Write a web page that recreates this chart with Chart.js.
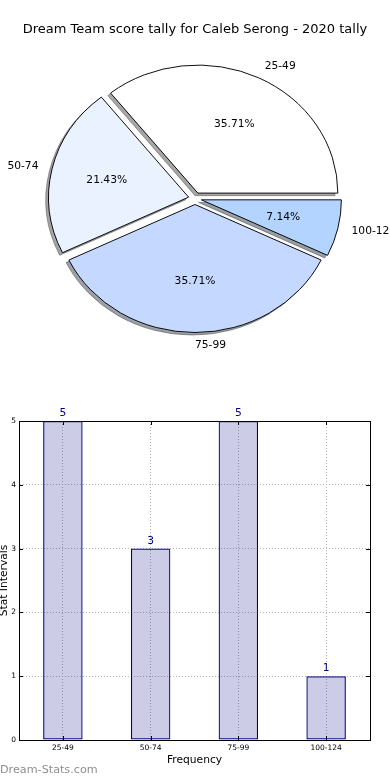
<!DOCTYPE html>
<html><head><meta charset="utf-8">
<script src="https://cdn.jsdelivr.net/npm/chart.js@4.4.0/dist/chart.umd.min.js"></script>
<style>
html,body{margin:0;padding:0;background:#fff;width:390px;height:780px;overflow:hidden;}
#pie{position:absolute;left:0;top:0;}
#bar{position:absolute;left:0;top:400px;}
</style></head><body>
<canvas id="pie" width="390" height="400"></canvas>
<canvas id="bar" width="390" height="380"></canvas>
<script>
const titleText = 'Dream Team score tally for Caleb Serong - 2020 tally';
const categories = ['25-49', '50-74', '75-99', '100-124'];
const counts = [5, 3, 5, 1];
const sliceColors = ['#ffffff', '#ebf2ff', '#c5d8ff', '#b3d4ff'];
const yTickValues = [0, 1, 2, 3, 4, 5];
const xAxisTitle = 'Frequency';
const yAxisTitle = 'Stat Intervals';
const watermarkText = 'Dream-Stats.com';

const FONT = "'DejaVu Sans', sans-serif";
Chart.defaults.font.family = FONT;
Chart.defaults.color = '#000';

const SX = 140 / 128;   // horizontal stretch of the (non equal-aspect) pie
const EXPLODE = 6;      // px each wedge is pushed outwards
const SHADOW = 2.56;    // px shadow shift (left / down)

function hexToRgb(h) {
  h = h.replace('#', '');
  return [0, 2, 4].map(i => parseInt(h.substr(i, 2), 16));
}

const total = counts.reduce((a, b) => a + b, 0);

const piePlugin = {
  id: 'mplPie',
  beforeDatasetDraw(chart, args) {
    const ctx = chart.ctx;
    const arcs = args.meta.data;
    const cx = arcs[0].x;
    ctx.save();
    ctx.translate(cx, 0); ctx.scale(SX, 1); ctx.translate(-cx, 0);
    arcs.forEach(arc => {
      const mid = (arc.startAngle + arc.endAngle) / 2;
      const orig = arc.options;
      const rgb = hexToRgb(orig.backgroundColor);
      const col = 'rgba(' + rgb.map(v => Math.round(v * 0.3)).join(',') + ',0.5)';
      arc.options = Object.assign({}, orig, {backgroundColor: col, borderColor: col});
      ctx.save();
      ctx.translate(Math.cos(mid) * EXPLODE - SHADOW, Math.sin(mid) * EXPLODE + SHADOW);
      arc.draw(ctx);
      ctx.restore();
      arc.options = orig;
    });
    arcs.forEach(arc => {
      const mid = (arc.startAngle + arc.endAngle) / 2;
      ctx.save();
      ctx.translate(Math.cos(mid) * EXPLODE, Math.sin(mid) * EXPLODE);
      arc.draw(ctx);
      ctx.restore();
    });
    ctx.restore();
    return false;
  },
  afterDatasetsDraw(chart) {
    const ctx = chart.ctx;
    const meta = chart.getDatasetMeta(0);
    const ds = chart.data.datasets[0];
    ctx.save();
    ctx.fillStyle = '#000';
    ctx.font = '10.7px ' + FONT;
    ctx.textBaseline = 'middle';
    meta.data.forEach((arc, i) => {
      const mid = (arc.startAngle + arc.endAngle) / 2;
      const R = arc.outerRadius;
      const c = Math.cos(mid), s = Math.sin(mid);
      const bx = arc.x + c * EXPLODE, by = arc.y + s * EXPLODE;
      const sx = x => arc.x + (x - arc.x) * SX;
      ctx.textAlign = c > -1e-9 ? 'left' : 'right';
      ctx.fillText(chart.data.labels[i], sx(bx + c * R * 1.1), by + s * R * 1.1);
      ctx.textAlign = 'center';
      const pct = (ds.data[i] / total * 100).toFixed(2) + '%';
      ctx.fillText(pct, sx(bx + c * R * 0.6), by + s * R * 0.6);
    });
    ctx.restore();
  }
};

new Chart(document.getElementById('pie'), {
  type: 'pie',
  data: {
    labels: categories.slice().reverse(),
    datasets: [{
      data: counts.slice().reverse(),
      backgroundColor: sliceColors.slice().reverse(),
      borderColor: '#000',
      borderWidth: 0.9,
      borderJoinStyle: 'miter',
      offset: 0
    }]
  },
  options: {
    responsive: false,
    animation: false,
    rotation: 90,
    radius: 128,
    layout: {padding: {top: 0, bottom: 40.3, left: 0, right: 0}},
    plugins: {
      legend: {display: false},
      tooltip: {enabled: false},
      title: {
        display: true,
        text: titleText,
        color: '#000',
        font: {size: 13, weight: 'normal', family: FONT, lineHeight: 1.2},
        padding: {top: 21.7, bottom: 0}
      }
    }
  },
  plugins: [piePlugin]
});

const barPlugin = {
  id: 'mplBar',
  afterDatasetsDraw(chart) {
    const ctx = chart.ctx;
    const meta = chart.getDatasetMeta(0);
    const ds = chart.data.datasets[0];
    ctx.save();
    ctx.fillStyle = '#000080';
    ctx.font = '10.7px ' + FONT;
    ctx.textAlign = 'center';
    ctx.textBaseline = 'alphabetic';
    meta.data.forEach((bar, i) => {
      ctx.fillText(String(ds.data[i]), bar.x, bar.y - 5);
    });
    ctx.restore();
  },
  afterDraw(chart) {
    const ctx = chart.ctx;
    const a = chart.chartArea;
    const xs = chart.scales.x, ys = chart.scales.y;
    ctx.save();
    ctx.strokeStyle = '#000';
    ctx.lineWidth = 1;
    ctx.strokeRect(Math.round(a.left) + 0.5, Math.round(a.top) + 0.5,
                   Math.round(a.right - a.left), Math.round(a.bottom - a.top));
    ctx.beginPath();
    ys.ticks.forEach(tk => {
      const y = Math.round(ys.getPixelForValue(tk.value)) + 0.5;
      ctx.moveTo(a.left, y); ctx.lineTo(a.left + 4, y);
      ctx.moveTo(a.right, y); ctx.lineTo(a.right - 4, y);
    });
    xs.ticks.forEach((tk, i) => {
      const x = Math.round(xs.getPixelForTick(i)) + 0.5;
      ctx.moveTo(x, a.bottom); ctx.lineTo(x, a.bottom - 4);
      ctx.moveTo(x, a.top); ctx.lineTo(x, a.top + 4);
    });
    ctx.stroke();
    ctx.fillStyle = '#8f8f8f';
    ctx.font = '11.2px ' + FONT;
    ctx.textAlign = 'left';
    ctx.textBaseline = 'middle';
    ctx.fillText(watermarkText, 0, chart.height - 10);
    ctx.restore();
  }
};

new Chart(document.getElementById('bar'), {
  type: 'bar',
  data: {
    labels: categories,
    datasets: [{
      data: counts,
      backgroundColor: 'rgba(0,0,128,0.2)',
      borderColor: '#000080',
      borderWidth: 1.2,
      borderSkipped: false,
      barPercentage: 0.45,
      categoryPercentage: 1
    }]
  },
  options: {
    responsive: false,
    animation: false,
    layout: {padding: {top: 21, right: 20, bottom: 0, left: 0}},
    plugins: {legend: {display: false}, tooltip: {enabled: false}},
    scales: {
      x: {
        type: 'category',
        offset: true,
        grid: {offset: false, color: '#b4b4b4', drawTicks: false, lineWidth: 1},
        border: {display: true, color: '#000', width: 1, dash: [1, 2]},
        ticks: {font: {size: 7.5}, color: '#000', padding: 4, maxRotation: 0, autoSkip: false},
        title: {display: true, text: xAxisTitle, font: {size: 10.7}, color: '#000', padding: {top: 0, bottom: 13.6}},
        afterFit(scale) { scale.height = 40; }
      },
      y: {
        min: 0, max: 5,
        afterBuildTicks(scale) { scale.ticks = yTickValues.map(v => ({value: v})); },
        grid: {color: '#b4b4b4', drawTicks: false, lineWidth: 1},
        border: {display: true, color: '#000', width: 1, dash: [1, 2]},
        ticks: {font: {size: 7.5}, color: '#000', padding: 3},
        title: {display: true, text: yAxisTitle, font: {size: 10.7}, color: '#000', padding: {top: -2, bottom: 0}},
        afterFit(scale) { scale.width = 19; }
      }
    }
  },
  plugins: [barPlugin]
});
</script>
</body></html>
